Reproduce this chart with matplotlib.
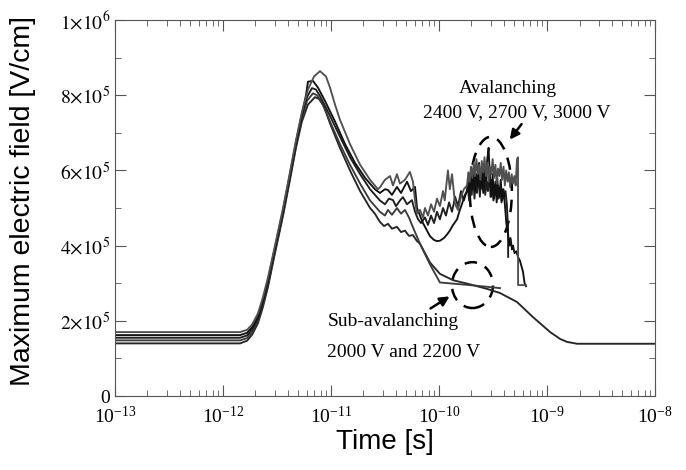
import numpy as np
import matplotlib
matplotlib.use("Agg")
import matplotlib.pyplot as plt
from matplotlib.patches import Ellipse
from matplotlib.ticker import LogLocator, MultipleLocator, NullFormatter

plt.rcParams['font.family'] = ['Liberation Serif', 'DejaVu Serif']
plt.rcParams['mathtext.fontset'] = 'stix'

# time [s] and maximum field [1e5 V/cm]
t_rise = [1e-13, 1.44e-12, 1.67e-12, 1.86e-12, 2.11e-12, 2.34e-12, 2.61e-12,
          3.03e-12, 3.60e-12, 4.17e-12, 4.74e-12, 5.38e-12]

t_band = [1.82e-10, 1.87e-10, 1.92e-10, 1.98e-10, 2.04e-10, 2.10e-10, 2.16e-10,
          2.22e-10, 2.29e-10, 2.35e-10, 2.42e-10, 2.49e-10, 2.57e-10, 2.64e-10,
          2.72e-10, 2.80e-10, 2.88e-10, 2.96e-10, 3.05e-10, 3.14e-10, 3.23e-10,
          3.33e-10, 3.42e-10, 3.52e-10, 3.63e-10, 3.73e-10, 3.84e-10, 3.96e-10,
          4.07e-10, 4.19e-10, 4.32e-10, 4.44e-10, 4.57e-10, 4.71e-10, 4.84e-10,
          4.99e-10, 5.13e-10, 5.28e-10]

t_band2 = [1.85e-10, 1.90e-10, 1.95e-10, 2.01e-10, 2.07e-10, 2.13e-10, 2.19e-10,
           2.25e-10, 2.32e-10, 2.39e-10, 2.46e-10, 2.53e-10, 2.60e-10, 2.68e-10,
           2.76e-10, 2.84e-10, 2.92e-10, 3.00e-10, 3.09e-10, 3.19e-10, 3.28e-10,
           3.37e-10, 3.47e-10, 3.57e-10, 3.68e-10, 3.79e-10, 3.90e-10, 4.01e-10,
           4.13e-10, 4.25e-10, 4.36e-10]

# 3000 V
t_3000 = t_rise + [6.12e-12, 6.97e-12, 7.91e-12, 8.99e-12, 9.8e-12, 1.09e-11, 1.21e-11,
                   1.50e-11, 1.86e-11, 2.30e-11, 2.72e-11,
                   2.84e-11, 3.16e-11, 3.52e-11, 3.75e-11, 4.08e-11, 4.35e-11, 4.84e-11,
                   5.38e-11, 5.74e-11, 6.0e-11, 6.26e-11,
                   6.67e-11, 7.11e-11, 7.42e-11, 7.91e-11, 8.44e-11, 9.0e-11, 9.58e-11,
                   1.02e-10, 1.09e-10, 1.13e-10, 1.21e-10, 1.26e-10, 1.32e-10, 1.41e-10,
                   1.50e-10, 1.60e-10, 1.70e-10] + t_band + [5.39e-10, 5.40e-10, 6.40e-10]
e_3000 = [1.70, 1.70, 1.76, 1.90, 2.20, 2.62, 3.15, 4.00, 5.00, 5.95, 6.80, 7.55,
          8.15, 8.50, 8.64, 8.50, 8.20, 7.75, 7.35, 6.70, 6.15, 5.75, 5.50,
          5.55, 5.75, 5.85, 5.60, 5.90, 5.65, 5.75, 5.96, 5.70, 5.20, 4.85,
          4.95, 4.75, 5.00, 4.80, 5.10, 4.90, 5.25, 5.05, 5.45, 5.20, 6.00, 5.50,
          5.90, 5.10, 4.95, 5.30, 5.50,
          5.60, 5.95, 5.70, 6.10, 5.80, 6.20, 5.85, 6.30, 5.90, 6.15, 5.75, 6.25,
          5.95, 6.35, 5.85, 6.20, 5.70, 6.10, 5.90, 6.30, 5.80, 6.15, 5.65, 6.05,
          5.85, 6.20, 5.75, 6.10, 5.60, 6.00, 5.70, 5.95, 5.55, 5.90, 5.65, 5.85,
          5.60, 6.30,
          6.35, 2.95, 2.95]

# 2700 V
t_2700 = t_rise + [5.87e-12, 6.12e-12, 6.81e-12, 7.59e-12, 8.79e-12, 1.09e-11, 1.35e-11,
                   1.67e-11, 2.07e-11, 2.55e-11,
                   2.84e-11, 3.16e-11, 3.37e-11, 3.67e-11, 4.08e-11, 4.45e-11, 5.06e-11,
                   5.50e-11, 6.0e-11, 6.26e-11,
                   6.67e-11, 7.11e-11, 7.74e-11, 8.26e-11, 9.0e-11, 9.58e-11, 1.02e-10,
                   1.11e-10, 1.19e-10, 1.26e-10, 1.35e-10, 1.47e-10, 1.56e-10, 1.63e-10,
                   1.74e-10] + t_band[:28] + [
                   4.1e-10, 4.2e-10, 4.36e-10, 4.5e-10, 4.6e-10, 4.74e-10, 4.85e-10,
                   5.0e-10, 5.2e-10, 5.39e-10, 5.62e-10, 6.0e-10, 6.2e-10, 6.4e-10]
e_2700 = [1.62, 1.62, 1.68, 1.83, 2.12, 2.55, 3.08, 3.95, 4.95, 5.90, 6.75, 7.50,
          8.00, 8.36, 8.38, 8.20, 7.85, 7.30, 6.70, 6.20, 5.80, 5.50,
          5.40, 5.50, 5.48, 5.35, 5.56, 5.40, 5.70, 5.45, 5.56, 5.00,
          4.80, 4.60, 4.40, 4.25, 4.15, 4.12, 4.13, 4.20, 4.30, 4.40, 4.55, 4.70,
          4.95, 5.10, 5.35,
          5.45, 5.80, 5.35, 5.95, 5.50, 6.05, 5.45, 5.90, 5.60, 6.20, 5.50, 6.00,
          5.40, 6.10, 5.70, 6.30, 6.60, 5.80, 5.30, 5.90, 5.25, 5.70, 5.15, 5.60,
          5.30, 5.75, 5.20, 5.50,
          5.00, 4.60, 4.30, 4.00, 4.20, 3.90, 4.00, 3.80, 3.85, 3.70, 3.60, 3.30,
          3.00, 2.92]

# 2400 V
t_2400 = t_rise + [6.0e-12, 6.67e-12, 7.26e-12, 7.91e-12, 9.8e-12, 1.21e-11, 1.50e-11,
                   1.86e-11, 2.30e-11,
                   2.84e-11, 3.16e-11, 3.44e-11, 3.75e-11, 4.0e-11, 4.35e-11, 4.64e-11,
                   5.06e-11, 5.62e-11, 6.0e-11, 6.40e-11, 6.82e-11, 7.42e-11, 7.91e-11,
                   8.44e-11, 9.0e-11, 9.58e-11, 1.02e-10, 1.09e-10, 1.16e-10, 1.24e-10,
                   1.32e-10, 1.41e-10, 1.50e-10, 1.60e-10, 1.70e-10] + t_band2 + [4.37e-10]
e_2400 = [1.55, 1.55, 1.61, 1.77, 2.06, 2.48, 3.02, 3.90, 4.90, 5.85, 6.70, 7.45,
          7.95, 8.19, 8.15, 7.98, 7.45, 6.90, 6.35, 5.90, 5.50,
          5.20, 5.10, 5.25, 5.21, 5.05, 5.20, 5.29, 5.10, 5.21, 4.90, 4.70, 4.60,
          4.75, 4.55, 4.80, 4.60, 4.90, 4.70, 5.00, 4.80, 5.15, 4.90, 5.30, 5.05,
          5.45, 5.20,
          5.55, 5.20, 5.75, 5.35, 5.90, 5.25, 5.65, 5.40, 5.95, 5.30, 5.80, 5.50,
          6.00, 5.35, 5.70, 5.45, 6.10, 5.30, 5.75, 5.20, 5.60, 5.35, 5.80, 5.25,
          5.55, 5.15, 5.50, 5.30, 5.45, 5.10, 4.45,
          3.70]

# 2200 V
t_2200 = t_rise + [6.0e-12, 6.81e-12, 7.42e-12, 8.26e-12, 9.8e-12, 1.21e-11, 1.50e-11,
                   1.86e-11, 2.30e-11,
                   2.84e-11, 3.16e-11, 3.37e-11, 3.67e-11, 4.08e-11, 4.45e-11, 4.84e-11,
                   5.27e-11, 5.62e-11, 6.67e-11, 8.26e-11, 1.02e-10, 1.94e-10, 3.67e-10]
e_2200 = [1.48, 1.48, 1.54, 1.70, 2.00, 2.42, 2.96, 3.85, 4.85, 5.80, 6.65, 7.40,
          7.85, 8.05, 8.00, 7.80, 7.30, 6.70, 6.15, 5.65, 5.20,
          4.90, 4.80, 4.95, 4.82, 5.00, 4.85, 4.95, 4.75, 4.55, 4.05, 3.50, 3.02,
          2.95, 2.87]

# 2000 V
t_2000 = t_rise + [6.12e-12, 7.11e-12, 7.75e-12, 8.61e-12, 9.8e-12, 1.21e-11, 1.50e-11,
                   1.86e-11, 2.30e-11, 2.55e-11,
                   2.84e-11, 3.10e-11, 3.37e-11, 3.67e-11, 4.08e-11, 4.45e-11, 4.84e-11,
                   5.27e-11, 5.74e-11, 6.26e-11, 6.67e-11, 7.42e-11, 8.26e-11,
                   1.02e-10, 1.35e-10, 1.94e-10, 2.78e-10, 3.67e-10, 5.28e-10, 7.41e-10,
                   1.07e-9, 1.32e-9, 1.53e-9, 1.90e-9, 1e-8]
e_2000 = [1.40, 1.40, 1.47, 1.63, 1.94, 2.36, 2.90, 3.80, 4.80, 5.75, 6.60, 7.30,
          7.75, 7.95, 7.90, 7.70, 7.25, 6.60, 6.00, 5.45, 5.00, 4.85,
          4.63, 4.52, 4.58, 4.45, 4.50, 4.36, 4.40, 4.26, 4.28, 4.12, 4.05, 3.80,
          3.55, 3.25, 3.08, 2.97, 2.85, 2.74, 2.50, 2.10, 1.70, 1.52, 1.44, 1.39,
          1.39]

y_ticks = [0, 2e5, 4e5, 6e5, 8e5, 1e6]
y_tick_labels = ['0', r'$2{\times}10^5$', r'$4{\times}10^5$', r'$6{\times}10^5$',
                 r'$8{\times}10^5$', r'$1{\times}10^6$']

fig = plt.figure(figsize=(6.86, 4.70), dpi=100)
ax = fig.add_axes([0.1676, 0.1574, 0.7872, 0.8])

curves = [(t_2000, e_2000, '#262626'), (t_2200, e_2200, '#3c3c3c'),
          (t_2400, e_2400, '#1e1e1e'), (t_2700, e_2700, '#111111'),
          (t_3000, e_3000, '#505050')]
for t, e, c in curves:
    ax.plot(t, np.array(e) * 1e5, color=c, lw=1.35)

ax.set_xscale('log')
ax.set_xlim(1e-13, 1e-8)
ax.set_ylim(0, 1e6)
ax.set_yticks(y_ticks)
ax.set_yticklabels(y_tick_labels)
ax.yaxis.set_minor_locator(MultipleLocator(1e5))
ax.xaxis.set_major_locator(LogLocator(base=10, numticks=10))
ax.xaxis.set_minor_locator(LogLocator(base=10, subs=np.arange(2, 10), numticks=10))
ax.xaxis.set_minor_formatter(NullFormatter())
ax.tick_params(which='both', direction='in', top=True, right=True,
               labelsize=14, color='#555555')
ax.tick_params(which='major', length=8)
ax.tick_params(which='minor', length=4)
ax.tick_params(axis='x', pad=7)
for s in ax.spines.values():
    s.set_color('#555555')

ax.set_xlabel('Time [s]', fontsize=20, family='Liberation Sans')
ax.set_ylabel('Maximum electric field [V/cm]', fontsize=20.5, family='Liberation Sans')
ax.xaxis.set_label_coords(0.5, -0.088)
ax.yaxis.set_label_coords(-0.146, 0.52)

# annotations
ax.text(0.637, 0.819, 'Avalanching', transform=ax.transAxes, fontsize=14, va='center')
ax.text(0.570, 0.755, '2400 V, 2700 V, 3000 V', transform=ax.transAxes, fontsize=14,
        va='center')
ax.text(0.394, 0.197, 'Sub-avalanching', transform=ax.transAxes, fontsize=14, va='center')
ax.text(0.393, 0.117, '2000 V and 2200 V', transform=ax.transAxes, fontsize=14,
        va='center')

ax.add_patch(Ellipse((0.696, 0.543), 0.078, 0.293, transform=ax.transAxes, fill=False,
                     ec='black', lw=1.8, ls=(0, (5, 3.5))))
ax.add_patch(Ellipse((0.662, 0.295), 0.076, 0.122, transform=ax.transAxes, fill=False,
                     ec='black', lw=1.8, ls=(0, (5, 3.5))))
ax.annotate('', xy=(0.728, 0.676), xytext=(0.756, 0.729), xycoords='axes fraction',
            arrowprops=dict(arrowstyle='-|>', color='black', lw=1.8, mutation_scale=14))
ax.annotate('', xy=(0.624, 0.269), xytext=(0.580, 0.229), xycoords='axes fraction',
            arrowprops=dict(arrowstyle='-|>', color='black', lw=1.8, mutation_scale=14))

fig.savefig('out.png', dpi=100)
